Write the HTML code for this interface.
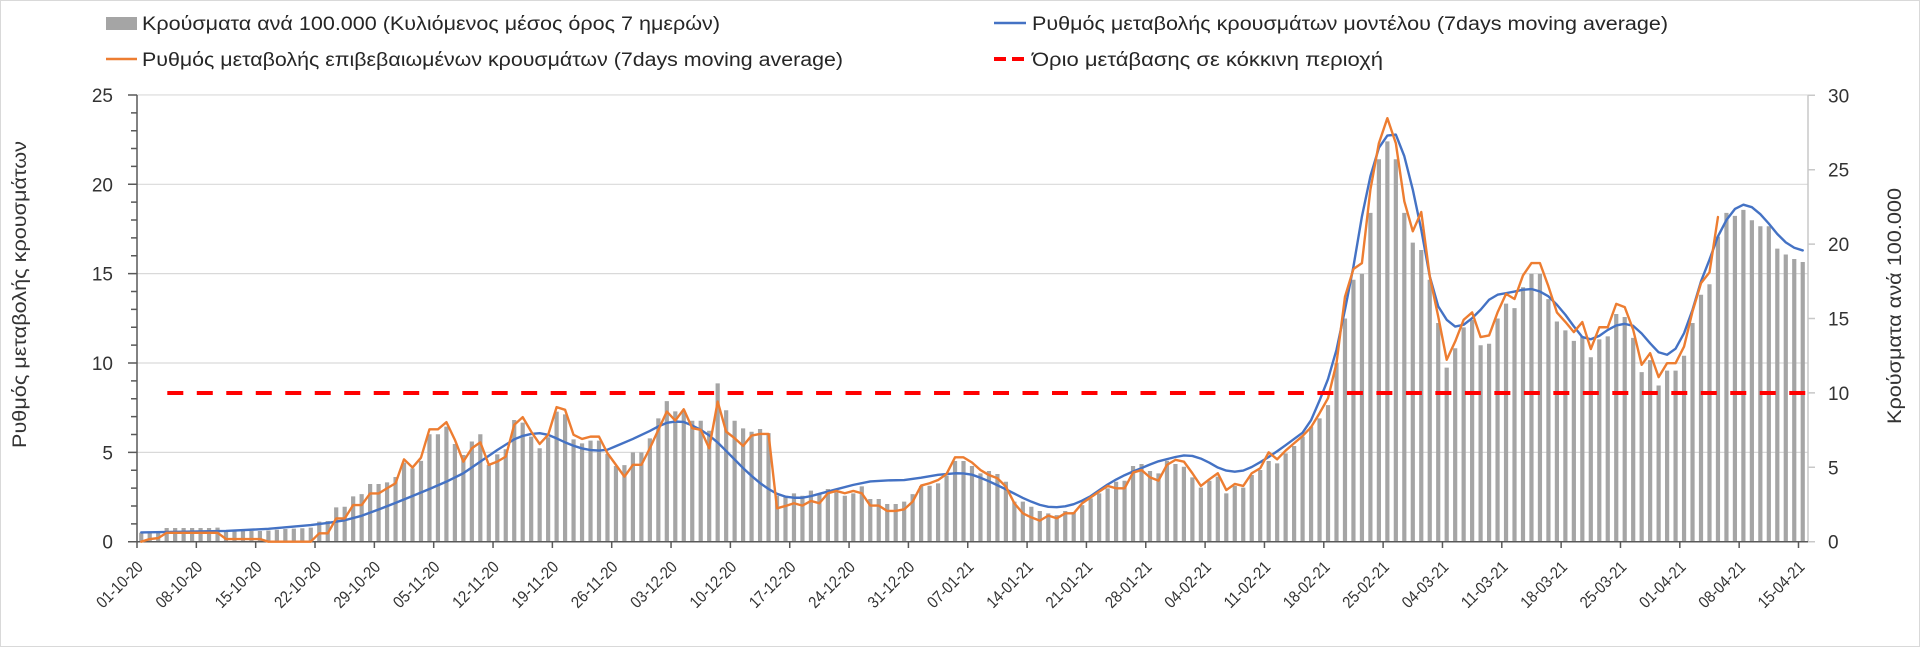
<!DOCTYPE html>
<html><head><meta charset="utf-8"><style>
html,body{margin:0;padding:0;background:#fff;}
svg{display:block;font-family:"Liberation Sans","Noto Sans CJK SC",sans-serif;}
</style></head><body>
<svg width="1920" height="647" viewBox="0 0 1920 647" xmlns="http://www.w3.org/2000/svg">
<rect x="0.5" y="0.5" width="1919" height="646" fill="#fff" stroke="#d9d9d9"/>
<!-- gridlines + left ticks (left units) -->
<g transform="translate(0 541.7) scale(1 -17.87)" fill="none">
<path vector-effect="non-scaling-stroke" stroke="#d9d9d9" stroke-width="1.2" d="M137 5H1808M137 10H1808M137 15H1808M137 20H1808M137 25H1808"/>
<path vector-effect="non-scaling-stroke" stroke="#595959" stroke-width="1.5" d="M131 1H137M131 2H137M131 3H137M131 4H137M131 6H137M131 7H137M131 8H137M131 9H137M131 11H137M131 12H137M131 13H137M131 14H137M131 16H137M131 17H137M131 18H137M131 19H137M131 21H137M131 22H137M131 23H137M131 24H137M128 0H137M128 5H137M128 10H137M128 15H137M128 20H137M128 25H137"/>
</g>
<!-- right axis -->
<g transform="translate(0 541.7) scale(1 -14.88)" fill="none">
<path vector-effect="non-scaling-stroke" stroke="#c8c8c8" stroke-width="1.5" d="M1808 0V30M1808 0H1815M1808 5H1815M1808 10H1815M1808 15H1815M1808 20H1815M1808 25H1815M1808 30H1815"/>
</g>
<!-- bars -->
<g transform="translate(141.24 541.7) scale(8.477 -14.88)" fill="none">
<path vector-effect="non-scaling-stroke" stroke="#a5a5a5" stroke-width="4.2" d="M0 0V0.6M1 0V0.6M2 0V0.65M3 0V0.92M4 0V0.92M5 0V0.92M6 0V0.92M7 0V0.92M8 0V0.92M9 0V0.95M10 0V0.72M11 0V0.72M12 0V0.72M13 0V0.72M14 0V0.72M15 0V0.75M16 0V0.8M17 0V0.85M18 0V0.88M19 0V0.9M20 0V0.95M21 0V1.35M22 0V1.39M23 0V2.31M24 0V2.35M25 0V3.05M26 0V3.2M27 0V3.88M28 0V3.88M29 0V3.99M30 0V4.35M31 0V5.31M32 0V4.93M33 0V5.43M34 0V7.22M35 0V7.22M36 0V7.73M37 0V6.57M38 0V5.83M39 0V6.73M40 0V7.22M41 0V5.16M42 0V5.87M43 0V6.21M44 0V8.18M45 0V8M46 0V7.06M47 0V6.28M48 0V7.02M49 0V8.74M50 0V8.56M51 0V6.88M52 0V6.61M53 0V6.79M54 0V6.79M55 0V5.9M56 0V5.09M57 0V5.15M58 0V6M59 0V6M60 0V6.94M61 0V8.29M62 0V9.45M63 0V8.76M64 0V8.76M65 0V8.13M66 0V8.13M67 0V7.46M68 0V10.64M69 0V8.83M70 0V8.13M71 0V7.62M72 0V7.39M73 0V7.57M74 0V7.3M75 0V3.09M76 0V3.09M77 0V3.25M78 0V3.09M79 0V3.43M80 0V3.2M81 0V3.54M82 0V3.32M83 0V3.09M84 0V3.25M85 0V3.72M86 0V2.87M87 0V2.87M88 0V2.53M89 0V2.53M90 0V2.69M91 0V3.2M92 0V3.74M93 0V3.76M94 0V3.92M95 0V4.44M96 0V5.42M97 0V5.42M98 0V5.09M99 0V4.59M100 0V4.75M101 0V4.55M102 0V4.03M103 0V2.69M104 0V2.69M105 0V2.35M106 0V2.06M107 0V1.9M108 0V1.79M109 0V2.06M110 0V2M111 0V2.46M112 0V2.91M113 0V3.25M114 0V3.58M115 0V4.03M116 0V4.1M117 0V5.09M118 0V5.22M119 0V4.75M120 0V4.59M121 0V5.44M122 0V5.22M123 0V5.04M124 0V4.32M125 0V3.63M126 0V4.1M127 0V4.37M128 0V3.25M129 0V3.74M130 0V3.63M131 0V4.48M132 0V4.82M133 0V5.42M134 0V5.26M135 0V5.94M136 0V6.43M137 0V7.06M138 0V7.73M139 0V8.29M140 0V9.18M141 0V12M142 0V15M143 0V17.6M144 0V18M145 0V22.1M146 0V25.7M147 0V26.9M148 0V25.7M149 0V22.1M150 0V20.1M151 0V19.6M152 0V17.6M153 0V14.7M154 0V11.7M155 0V13M156 0V14.4M157 0V14.9M158 0V13.2M159 0V13.3M160 0V15M161 0V16M162 0V15.7M163 0V17.1M164 0V18M165 0V18M166 0V16.3M167 0V14.8M168 0V14.2M169 0V13.5M170 0V13.8M171 0V12.4M172 0V13.6M173 0V13.8M174 0V15.3M175 0V15.1M176 0V13.7M177 0V11.4M178 0V12.2M179 0V10.5M180 0V11.5M181 0V11.5M182 0V12.5M183 0V14.7M184 0V16.6M185 0V17.3M186 0V20.5M187 0V22.1M188 0V21.9M189 0V22.3M190 0V21.6M191 0V21.2M192 0V21.2M193 0V19.7M194 0V19.3M195 0V19M196 0V18.8"/>
</g>
<!-- x axis -->
<line x1="137" y1="541.7" x2="1808" y2="541.7" stroke="#595959" stroke-width="1.5"/>
<line x1="137" y1="95" x2="137" y2="541.7" stroke="#595959" stroke-width="1.5"/>
<g transform="translate(141.24 0) scale(8.477 1)" fill="none">
<path vector-effect="non-scaling-stroke" stroke="#595959" stroke-width="1.5" d="M-0.5 541.7V548M6.5 541.7V548M13.5 541.7V548M20.5 541.7V548M27.5 541.7V548M34.5 541.7V548M41.5 541.7V548M48.5 541.7V548M55.5 541.7V548M62.5 541.7V548M69.5 541.7V548M76.5 541.7V548M83.5 541.7V548M90.5 541.7V548M97.5 541.7V548M104.5 541.7V548M111.5 541.7V548M118.5 541.7V548M125.5 541.7V548M132.5 541.7V548M139.5 541.7V548M146.5 541.7V548M153.5 541.7V548M160.5 541.7V548M167.5 541.7V548M174.5 541.7V548M181.5 541.7V548M188.5 541.7V548M195.5 541.7V548"/>
</g>
<!-- lines (left units) -->
<g transform="translate(141.24 541.7) scale(8.477 -17.87)" fill="none" stroke-linejoin="round" stroke-linecap="round">
<polyline vector-effect="non-scaling-stroke" stroke="#4472c4" stroke-width="2.4" points="0,0.52 5,0.56 10,0.6 15,0.72 20,0.93 22,1.05 24,1.2 26,1.45 28,1.8 30,2.17 32,2.56 34,2.95 36,3.36 38,3.83 40,4.48 42,5.13 44,5.73 45,5.92 46,6.03 47,6.07 48,5.98 49,5.78 50,5.56 51,5.37 52,5.22 53,5.13 54,5.1 55,5.15 56,5.35 58,5.75 60,6.2 61,6.45 62,6.65 63,6.72 64,6.7 65,6.5 66,6.26 67,5.95 68,5.55 69,5.08 70,4.6 71,4.12 72,3.68 73,3.28 74,2.95 75,2.68 76,2.52 77,2.46 78,2.46 79,2.55 80,2.68 82,2.93 84,3.18 86,3.37 88,3.43 90,3.45 92,3.58 94,3.74 96,3.83 97,3.82 98,3.75 99,3.58 100,3.38 101,3.16 102,2.93 103,2.69 104,2.45 105,2.24 106,2.06 107,1.95 108,1.93 109,1.98 110,2.1 111,2.3 112,2.55 113,2.88 114,3.2 115,3.48 116,3.72 117,3.93 118,4.12 119,4.32 120,4.5 121,4.62 122,4.74 123,4.83 124,4.8 125,4.65 126,4.42 127,4.15 128,3.98 129,3.92 130,3.98 131,4.18 132,4.45 133,4.74 134,5.06 135,5.4 136,5.75 137,6.1 138,6.8 139,7.9 140,9.1 141,10.74 142,12.98 143,15.4 144,18.2 145,20.45 146,22.04 147,22.73 148,22.78 149,21.57 150,19.7 151,17.46 152,14.85 153,13.17 154,12.42 155,12.04 156,12.14 157,12.51 158,12.98 159,13.54 160,13.82 161,13.91 162,14 163,14.1 164,14.14 165,14 166,13.73 167,13.26 168,12.7 169,12.05 170,11.45 171,11.33 172,11.52 173,11.85 174,12.1 175,12.19 176,12.08 177,11.65 178,11.1 179,10.6 180,10.46 181,10.8 182,11.67 183,12.98 184,14.57 185,15.78 186,17.09 187,18 188,18.62 189,18.86 190,18.72 191,18.33 192,17.8 193,17.22 194,16.75 195,16.45 196,16.3"/>
<polyline vector-effect="non-scaling-stroke" stroke="#ed7d31" stroke-width="2.4" points="0,0 1,0.15 2,0.2 3,0.5 4,0.5 5,0.5 6,0.5 7,0.5 8,0.5 9,0.5 10,0.15 11,0.15 12,0.15 13,0.15 14,0.15 15,0 16,0 17,0 18,0 19,0 20,0 21,0.47 22,0.47 23,1.3 24,1.3 25,2.05 26,2.05 27,2.7 28,2.7 29,2.99 30,3.27 31,4.61 32,4.15 33,4.7 34,6.29 35,6.29 36,6.69 37,5.7 38,4.48 39,5.23 40,5.56 41,4.3 42,4.48 43,4.76 44,6.54 45,6.97 46,6.16 47,5.47 48,5.98 49,7.53 50,7.38 51,5.98 52,5.75 53,5.88 54,5.88 55,4.95 56,4.3 57,3.64 58,4.3 59,4.3 60,5.23 61,6.26 62,7.28 63,6.78 64,7.41 65,6.35 66,6.26 67,5.23 68,7.84 69,6.16 70,5.79 71,5.36 72,5.94 73,6.03 74,6.03 75,1.87 76,2 77,2.15 78,2.02 79,2.28 80,2.15 81,2.71 82,2.84 83,2.71 84,2.84 85,2.71 86,2.02 87,2.02 88,1.72 89,1.72 90,1.81 91,2.24 92,3.14 93,3.27 94,3.45 95,3.79 96,4.72 97,4.72 98,4.43 99,4.01 100,3.73 101,3.55 102,3.08 103,2.15 104,1.59 105,1.36 106,1.18 107,1.46 108,1.31 109,1.59 110,1.59 111,2.15 112,2.48 113,2.8 114,3.12 115,2.99 116,2.99 117,3.87 118,4.01 119,3.6 120,3.42 121,4.3 122,4.58 123,4.48 124,3.83 125,3.12 126,3.49 127,3.83 128,2.89 129,3.23 130,3.12 131,3.83 132,4.11 133,5 134,4.61 135,5.1 136,5.51 137,5.92 138,6.41 139,7.19 140,8.03 141,9.99 142,13.7 143,15.26 144,15.59 145,19.7 146,22.3 147,23.7 148,22.3 149,19.05 150,17.37 151,18.45 152,14.85 153,12.6 154,10.18 155,11.2 156,12.42 157,12.83 158,11.45 159,11.54 160,12.83 161,13.87 162,13.58 163,14.9 164,15.59 165,15.59 166,14.29 167,12.83 168,12.3 169,11.73 170,12.29 171,10.78 172,12 173,12 174,13.31 175,13.13 176,11.86 177,9.9 178,10.55 179,9.21 180,9.99 181,9.99 182,10.92 183,12.89 184,14.47 185,15.07 186,18.17"/>
</g>
<!-- red threshold -->
<line x1="167.3" y1="393" x2="1807" y2="393" stroke="#f00" stroke-width="4" stroke-dasharray="16 13.49"/>
<!-- left labels -->
<g font-size="19" fill="#333" text-anchor="end">
<text x="113" y="548.7">0</text>
<text x="113" y="459.4">5</text>
<text x="113" y="370">10</text>
<text x="113" y="280.7">15</text>
<text x="113" y="191.3">20</text>
<text x="113" y="102">25</text>
</g>
<g font-size="19" fill="#333" text-anchor="start">
<text x="1828" y="548.7">0</text>
<text x="1828" y="474.3">5</text>
<text x="1828" y="399.9">10</text>
<text x="1828" y="325.5">15</text>
<text x="1828" y="251.1">20</text>
<text x="1828" y="176.7">25</text>
<text x="1828" y="102.3">30</text>
</g>
<!-- x labels -->
<g font-size="16.5" fill="#333" text-anchor="end">
<text transform="translate(144 568) rotate(-45)" textLength="58" lengthAdjust="spacingAndGlyphs">01-10-20</text>
<text transform="translate(203.34 568) rotate(-45)" textLength="58" lengthAdjust="spacingAndGlyphs">08-10-20</text>
<text transform="translate(262.68 568) rotate(-45)" textLength="58" lengthAdjust="spacingAndGlyphs">15-10-20</text>
<text transform="translate(322.02 568) rotate(-45)" textLength="58" lengthAdjust="spacingAndGlyphs">22-10-20</text>
<text transform="translate(381.36 568) rotate(-45)" textLength="58" lengthAdjust="spacingAndGlyphs">29-10-20</text>
<text transform="translate(440.7 568) rotate(-45)" textLength="58" lengthAdjust="spacingAndGlyphs">05-11-20</text>
<text transform="translate(500.04 568) rotate(-45)" textLength="58" lengthAdjust="spacingAndGlyphs">12-11-20</text>
<text transform="translate(559.38 568) rotate(-45)" textLength="58" lengthAdjust="spacingAndGlyphs">19-11-20</text>
<text transform="translate(618.72 568) rotate(-45)" textLength="58" lengthAdjust="spacingAndGlyphs">26-11-20</text>
<text transform="translate(678.06 568) rotate(-45)" textLength="58" lengthAdjust="spacingAndGlyphs">03-12-20</text>
<text transform="translate(737.4 568) rotate(-45)" textLength="58" lengthAdjust="spacingAndGlyphs">10-12-20</text>
<text transform="translate(796.74 568) rotate(-45)" textLength="58" lengthAdjust="spacingAndGlyphs">17-12-20</text>
<text transform="translate(856.08 568) rotate(-45)" textLength="58" lengthAdjust="spacingAndGlyphs">24-12-20</text>
<text transform="translate(915.42 568) rotate(-45)" textLength="58" lengthAdjust="spacingAndGlyphs">31-12-20</text>
<text transform="translate(974.76 568) rotate(-45)" textLength="58" lengthAdjust="spacingAndGlyphs">07-01-21</text>
<text transform="translate(1034.1 568) rotate(-45)" textLength="58" lengthAdjust="spacingAndGlyphs">14-01-21</text>
<text transform="translate(1093.44 568) rotate(-45)" textLength="58" lengthAdjust="spacingAndGlyphs">21-01-21</text>
<text transform="translate(1152.78 568) rotate(-45)" textLength="58" lengthAdjust="spacingAndGlyphs">28-01-21</text>
<text transform="translate(1212.12 568) rotate(-45)" textLength="58" lengthAdjust="spacingAndGlyphs">04-02-21</text>
<text transform="translate(1271.46 568) rotate(-45)" textLength="58" lengthAdjust="spacingAndGlyphs">11-02-21</text>
<text transform="translate(1330.8 568) rotate(-45)" textLength="58" lengthAdjust="spacingAndGlyphs">18-02-21</text>
<text transform="translate(1390.14 568) rotate(-45)" textLength="58" lengthAdjust="spacingAndGlyphs">25-02-21</text>
<text transform="translate(1449.48 568) rotate(-45)" textLength="58" lengthAdjust="spacingAndGlyphs">04-03-21</text>
<text transform="translate(1508.82 568) rotate(-45)" textLength="58" lengthAdjust="spacingAndGlyphs">11-03-21</text>
<text transform="translate(1568.16 568) rotate(-45)" textLength="58" lengthAdjust="spacingAndGlyphs">18-03-21</text>
<text transform="translate(1627.5 568) rotate(-45)" textLength="58" lengthAdjust="spacingAndGlyphs">25-03-21</text>
<text transform="translate(1686.84 568) rotate(-45)" textLength="58" lengthAdjust="spacingAndGlyphs">01-04-21</text>
<text transform="translate(1746.18 568) rotate(-45)" textLength="58" lengthAdjust="spacingAndGlyphs">08-04-21</text>
<text transform="translate(1805.52 568) rotate(-45)" textLength="58" lengthAdjust="spacingAndGlyphs">15-04-21</text>
</g>
<!-- axis titles -->
<text transform="translate(26 294.5) rotate(-90)" font-size="19" fill="#333" text-anchor="middle" textLength="307" lengthAdjust="spacingAndGlyphs">Ρυθμός μεταβολής κρουσμάτων</text>
<text transform="translate(1901 306) rotate(-90)" font-size="19" fill="#333" text-anchor="middle" textLength="236" lengthAdjust="spacingAndGlyphs">Κρούσματα ανά 100.000</text>
<!-- legend -->
<rect x="106" y="17" width="31" height="13" fill="#a5a5a5"/>
<text x="142" y="30" font-size="19" fill="#262626" textLength="578" lengthAdjust="spacingAndGlyphs">Κρούσματα ανά 100.000 (Κυλιόμενος μέσος όρος 7 ημερών)</text>
<line x1="106" y1="59" x2="137" y2="59" stroke="#ed7d31" stroke-width="2.5"/>
<text x="142" y="66" font-size="19" fill="#262626" textLength="701" lengthAdjust="spacingAndGlyphs">Ρυθμός μεταβολής επιβεβαιωμένων κρουσμάτων (7days moving average)</text>
<line x1="994" y1="23" x2="1026" y2="23" stroke="#4472c4" stroke-width="2.5"/>
<text x="1032" y="30" font-size="19" fill="#262626" textLength="636" lengthAdjust="spacingAndGlyphs">Ρυθμός μεταβολής κρουσμάτων μοντέλου (7days moving average)</text>
<line x1="994" y1="59" x2="1026" y2="59" stroke="#f00" stroke-width="4" stroke-dasharray="12 6"/>
<text x="1032" y="66" font-size="19" fill="#262626" textLength="351" lengthAdjust="spacingAndGlyphs">Όριο μετάβασης σε κόκκινη περιοχή</text>
</svg>
</body></html>
